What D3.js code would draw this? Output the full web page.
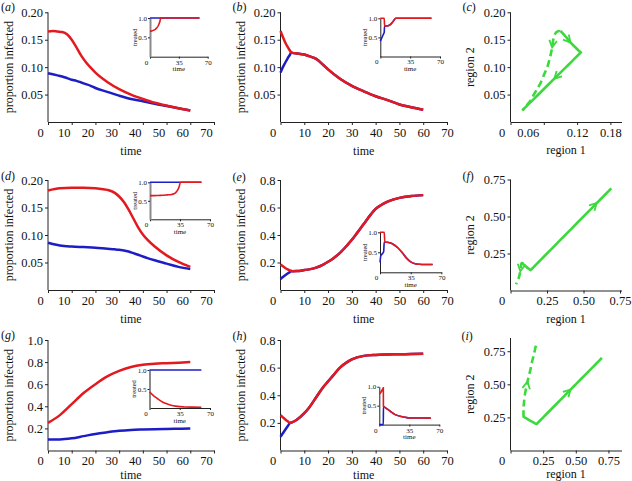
<!DOCTYPE html>
<html><head><meta charset="utf-8">
<script src="https://cdn.jsdelivr.net/npm/d3@7"></script>
<style>
body{margin:0;background:#fff}
svg{display:block}
svg text{font-family:'Liberation Serif','Times New Roman','DejaVu Serif',serif !important;}
</style>
</head><body>
<svg id="chart" width="632" height="481"></svg>
<script>
// ================= DATA =================
const timeTicks = [0,10,20,30,40,50,60,70];
const insetXTicks = [0,35,70];
const insetYTicks = [0.5,1.0];
const yTicksSmall = [0.05,0.10,0.15,0.20];
const yTicksE = [0.2,0.4,0.6,0.8];
const yTicksG = [0.2,0.4,0.6,0.8,1.0];
const xTicksC = [0,0.06,0.12,0.18];
const xTicksFI = [0,0.25,0.50,0.75];
const yTicksFI = [0.25,0.50,0.75];

// (a)
const tA    = [0,2,4,6,8,10,12,14,16,18,20,25,30,35,40,45,50,55,60];
const redA  = [0.165,0.166,0.165,0.164,0.160,0.150,0.136,0.121,0.109,0.099,0.090,0.073,0.060,0.050,0.042,0.035,0.030,0.025,0.021];
const blueA = [0.089,0.087,0.085,0.083,0.080,0.077,0.075,0.072,0.069,0.066,0.062,0.055,0.048,0.042,0.038,0.033,0.029,0.025,0.021];
const tAi    = [0,2,4,6,8,10,11,12,13,60];
const redAi  = [0.66,0.665,0.68,0.70,0.74,0.80,0.85,0.91,1.0,1.0];
const blueAi = [1,1,1,1,1,1,1,1,1,1];

// (b)
const tB    = [0,1,2,3,4,4.5,5,7,10,12,15,18,20,25,30,35,40,45,50,55,60];
const redB  = [0.166,0.155,0.145,0.137,0.130,0.127,0.126,0.125,0.123,0.120,0.115,0.104,0.096,0.079,0.066,0.056,0.047,0.040,0.032,0.027,0.0225];
const blueB = [0.090,0.100,0.108,0.116,0.123,0.127,0.126,0.125,0.123,0.120,0.115,0.104,0.096,0.079,0.066,0.056,0.047,0.040,0.032,0.027,0.0225];
const tBi    = [0,1,2,3,4,4.6,5,8,10,12,14,16,18,60];
const redBi  = [1,1,1,1,1,1,0.8,0.8,0.81,0.84,0.89,0.95,1,1];
const blueBi = [0.4,0.45,0.5,0.55,0.6,0.63,0.8,0.8,0.81,0.84,0.89,0.95,1,1];

// (d)
const tD    = [0,5,10,15,20,25,28,30,32,34,36,38,40,42,45,50,55,60];
const redD  = [0.181,0.185,0.186,0.186,0.185,0.182,0.177,0.170,0.160,0.146,0.130,0.114,0.101,0.091,0.079,0.063,0.051,0.042];
const blueD = [0.086,0.081,0.079,0.078,0.077,0.075,0.074,0.073,0.072,0.070,0.067,0.064,0.061,0.058,0.054,0.048,0.042,0.038];
const tDi    = [0,5,10,15,20,25,28,30,32,34,35.5,60];
const redDi  = [0.64,0.64,0.645,0.65,0.66,0.67,0.69,0.72,0.78,0.88,1.0,1.0];
const blueDi = [1,1,1,1,1,1,1,1,1,1,1,1];

// (e)
const tE    = [0,1,2,3,4,4.5,5,7,10,12,15,18,20,22,25,28,30,32,35,38,40,42,45,50,55,60];
const redE  = [0.185,0.172,0.160,0.150,0.142,0.138,0.137,0.138,0.145,0.150,0.163,0.185,0.205,0.228,0.270,0.325,0.365,0.410,0.480,0.550,0.590,0.615,0.642,0.670,0.683,0.690];
const blueE = [0.080,0.095,0.108,0.120,0.132,0.138,0.137,0.138,0.145,0.150,0.163,0.185,0.205,0.228,0.270,0.325,0.365,0.410,0.480,0.550,0.590,0.615,0.642,0.670,0.683,0.690];
const tEi    = [0,1,3,4.2,4.8,5.5,8,12,15,20,25,30,35,40,45,50,60];
const redEi  = [1,1,1,1,1,0.75,0.75,0.73,0.70,0.62,0.50,0.36,0.26,0.215,0.20,0.195,0.195];
const blueEi = [0.25,0.42,0.47,0.52,0.75,0.75,0.75,0.73,0.70,0.62,0.50,0.36,0.26,0.215,0.20,0.195,0.195];

// (g)
const tG    = [0,5,10,15,20,25,30,35,40,45,50,55,60];
const redG  = [0.25,0.32,0.42,0.52,0.60,0.67,0.72,0.755,0.775,0.785,0.79,0.795,0.80];
const blueG = [0.10,0.10,0.11,0.13,0.15,0.165,0.178,0.186,0.19,0.193,0.195,0.197,0.198];
const tGi    = [0,3,6,9,12,15,20,25,30,35,40,50,60];
const redGi  = [0.42,0.36,0.30,0.25,0.20,0.16,0.11,0.075,0.05,0.035,0.028,0.022,0.02];
const blueGi = [1,1,1,1,1,1,1,1,1,1,1,1,1];

// (h)
const tH    = [0,1,2,3,4,5,7,10,12,15,18,20,22,25,28,30,35,40,45,50,55,60];
const redH  = [0.255,0.240,0.225,0.212,0.200,0.205,0.225,0.270,0.310,0.385,0.460,0.500,0.540,0.600,0.640,0.660,0.685,0.692,0.695,0.697,0.698,0.700];
const blueH = [0.100,0.125,0.150,0.175,0.200,0.205,0.225,0.270,0.310,0.385,0.460,0.500,0.540,0.600,0.640,0.660,0.685,0.692,0.695,0.697,0.698,0.700];
const tHi    = [0,1,2,3,4,4.7,4.8,6,8,10,12,14,16,18,20,24,28,32,36,40,50,60];
const redHi  = [0.81,0.83,0.86,0.90,0.94,0.97,0.48,0.46,0.43,0.40,0.37,0.33,0.30,0.27,0.25,0.22,0.20,0.185,0.178,0.175,0.173,0.172];
const blueHi = [0,0,0,0,0,0,0.48,0.46,0.43,0.40,0.37,0.33,0.30,0.27,0.25,0.22,0.20,0.185,0.178,0.175,0.173,0.172];

// arrow times on phase paths
const arrowsCsolid = [2,25], arrowsCdash = [12];
const arrowsFsolid = [40],   arrowsFdash = [36];
const arrowsIsolid = [18],   arrowsIdash = [15];

// ================= DRAWING =================
const RED = '#e2191e', BLUE = '#1d1dc6', GREEN = '#3cd93c';
const FONT = "'Liberation Serif','Times New Roman','DejaVu Serif',serif";
const svg = d3.select('#chart');

function styleAxis(sel, size) {
  sel.attr('font-family', null).style('font-family', FONT).attr('font-size', size).attr('color', '#222');
  sel.selectAll('text').attr('fill', '#111');
}

function panelLabel(x, y, letter) {
  const t = svg.append('text').attr('x', x).attr('y', y)
    .style('font-family', FONT).attr('font-size', 12).attr('fill', '#111');
  t.append('tspan').text('(');
  t.append('tspan').attr('font-style', 'italic').text(letter);
  t.append('tspan').text(')');
}

function yTitle(x, y, txt, size) {
  svg.append('text').attr('transform', `translate(${x},${y}) rotate(-90)`)
    .attr('text-anchor', 'middle').style('font-family', FONT).attr('font-size', size)
    .attr('fill', '#111').text(txt);
}
function xTitle(x, y, txt, size) {
  svg.append('text').attr('x', x).attr('y', y).attr('text-anchor', 'middle')
    .style('font-family', FONT).attr('font-size', size).attr('fill', '#111').text(txt);
}

function timePanel(c) {
  const x = d3.scaleLinear().domain([0, 70]).range([c.x0, c.x1]);
  const y = d3.scaleLinear().domain([0, c.ymax]).range([c.y0, c.y1]);
  const gx = svg.append('g').attr('transform', `translate(0,${c.y0})`)
    .call(d3.axisBottom(x).tickValues(timeTicks).tickSize(3).tickPadding(3).tickSizeOuter(0).tickFormat(d3.format('d')));
  styleAxis(gx, 12.5);
  gx.selectAll('text').attr('dx', d => d === 0 ? c.zeroShift : c.labelShift);
  const gy = svg.append('g').attr('transform', `translate(${c.x0},0)`)
    .call(d3.axisLeft(y).tickValues(c.yTicks).tickSize(3).tickPadding(2).tickSizeOuter(0).tickFormat(d3.format(c.yFmt)));
  styleAxis(gy, 12.5);
  gy.select('.domain').attr('d', `M0,${c.y0}V${c.y1}`);

  const line = (t, v) => d3.line().x((d, i) => x(t[i])).y(d => y(d)).curve(d3.curveMonotoneX)(v);
  svg.append('path').attr('d', line(c.t, c.blue)).attr('fill', 'none').attr('stroke', BLUE).attr('stroke-width', 2.5);
  svg.append('path').attr('d', line(c.t, c.red)).attr('fill', 'none').attr('stroke', RED).attr('stroke-width', 2.5);

  yTitle(c.ytx, (c.y0 + c.y1) / 2, 'proportion infected', 12);
  xTitle((c.x0 + c.x1) / 2, c.xty, 'time', 12);
  panelLabel(c.lx, c.ly, c.letter);

  // inset
  const I = c.inset;
  const xi = d3.scaleLinear().domain([0, 70]).range([I.x0, I.x1]);
  const yi = d3.scaleLinear().domain([0, 1]).range([I.y0, I.y1]);
  const gxi = svg.append('g').attr('transform', `translate(0,${I.y0})`)
    .call(d3.axisBottom(xi).tickValues(insetXTicks).tickSize(2).tickPadding(1).tickSizeOuter(0));
  styleAxis(gxi, 7);
  gxi.selectAll('text').attr('dx', d => d === 0 ? -4 : 0);
  const gyi = svg.append('g').attr('transform', `translate(${I.x0},0)`)
    .call(d3.axisLeft(yi).tickValues(insetYTicks).tickSize(2).tickPadding(1).tickSizeOuter(0).tickFormat(d3.format('.1f')));
  styleAxis(gyi, 7);
  if (I.grayAxis) gyi.select('.domain').attr('stroke', '#8a8a8a').attr('stroke-width', 2);
  const li = (t, v) => d3.line().x((d, i) => xi(t[i])).y(d => yi(d)).curve(d3.curveMonotoneX)(v);
  svg.append('path').attr('d', li(I.t, I.blue)).attr('fill', 'none').attr('stroke', BLUE).attr('stroke-width', 1.6);
  svg.append('path').attr('d', li(I.t, I.red)).attr('fill', 'none').attr('stroke', RED).attr('stroke-width', 1.6);
  yTitle(I.x0 - 13.5, (I.y0 + I.y1) / 2, 'treated', 6.5);
  xTitle((I.x0 + I.x1) / 2, I.y0 + 14.5, 'time', 7);
}

function phasePanel(c) {
  const x = d3.scaleLinear().domain([0, c.xmax]).range([c.x0, c.x1]);
  const y = d3.scaleLinear().domain([0, c.ymax]).range([c.y0, c.y1]);
  const gx = svg.append('g').attr('transform', `translate(0,${c.y0})`)
    .call(d3.axisBottom(x).tickValues(c.xTicks).tickSize(3).tickPadding(3).tickSizeOuter(0)
      .tickFormat(d => d === 0 ? '0' : d3.format('.2f')(d)));
  styleAxis(gx, 12.5);
  gx.selectAll('text').attr('dx', d => (c.shifts[String(d)] || 0));
  const gy = svg.append('g').attr('transform', `translate(${c.x0},0)`)
    .call(d3.axisLeft(y).tickValues(c.yTicks).tickSize(3).tickPadding(2).tickSizeOuter(0).tickFormat(d3.format('.2f')));
  styleAxis(gy, 12.5);
  gy.select('.domain').attr('d', `M0,${c.y0}V${c.y1}`);

  c.paths.forEach(p => {
    const ln = d3.line().x((d, i) => x(p.r1[i])).y((d, i) => y(p.r2[i])).curve(d3.curveCatmullRom.alpha(0.5));
    svg.append('path').attr('d', ln(p.t)).attr('fill', 'none').attr('stroke', GREEN)
      .attr('stroke-width', 2.6).attr('stroke-dasharray', p.dashed ? '7,4' : null)
      .attr('stroke-linejoin', 'round');
    const f1 = d3.scaleLinear().domain(p.t).range(p.r1).clamp(true);
    const f2 = d3.scaleLinear().domain(p.t).range(p.r2).clamp(true);
    p.arrows.forEach(ta => {
      const px = x(f1(ta)), py = y(f2(ta));
      const qx = x(f1(ta - 1.5)), qy = y(f2(ta - 1.5));
      let dx = px - qx, dy = py - qy; const L = Math.hypot(dx, dy) || 1; dx /= L; dy /= L;
      const len = 8, a = 0.5, bx = -dx, by = -dy;
      const r = s => [px + len * (bx * Math.cos(s * a) - by * Math.sin(s * a)), py + len * (bx * Math.sin(s * a) + by * Math.cos(s * a))];
      const p1 = r(1), p2 = r(-1);
      svg.append('path').attr('d', `M${p1[0]},${p1[1]}L${px},${py}L${p2[0]},${p2[1]}`)
        .attr('fill', 'none').attr('stroke', GREEN).attr('stroke-width', 1.8);
    });
  });
  yTitle(c.ytx, (c.y0 + c.y1) / 2, 'region 2', 12);
  xTitle((c.x0 + c.x1) / 2, c.xty, 'region 1', 12);
  panelLabel(c.lx, c.ly, c.letter);
}

// ---- layout ----
const LX0 = 48, LX1 = 214, MX0 = 280.5, MX1 = 447, RX0 = 510.5;
const rows = [{y0: 122, top: 12.3, xty: 155},
              {y0: 290, top: 180, xty: 323},
              {y0: 450.5, top: 340, xty: 479}];

timePanel({letter: 'a', x0: LX0, x1: LX1, y0: rows[0].y0, y1: rows[0].top, ymax: 0.2, yTicks: yTicksSmall, yFmt: '.2f',
  t: tA, red: redA, blue: blueA, labelShift: -8, zeroShift: -8, ytx: 13, xty: rows[0].xty, lx: 1, ly: 11,
  inset: {x0: 150, x1: 207.7, y0: 56.7, y1: 18, t: tAi, red: redAi, blue: blueAi, grayAxis: true}});
timePanel({letter: 'b', x0: MX0, x1: MX1, y0: rows[0].y0, y1: rows[0].top, ymax: 0.2, yTicks: yTicksSmall, yFmt: '.2f',
  t: tB, red: redB, blue: blueB, labelShift: 0, zeroShift: -8, ytx: 245, xty: rows[0].xty, lx: 232.5, ly: 11,
  inset: {x0: 380.3, x1: 440, y0: 56.5, y1: 18.3, t: tBi, red: redBi, blue: blueBi}});
phasePanel({letter: 'c', x0: RX0, x1: 621.5, y0: rows[0].y0, y1: rows[0].top, xmax: 0.2, ymax: 0.2,
  xTicks: xTicksC, yTicks: yTicksSmall, shifts: {'0': -9, '0.06': -16},
  paths: [{t: tA, r1: blueA, r2: redA, dashed: true, arrows: arrowsCdash},
          {t: tB, r1: blueB, r2: redB, dashed: false, arrows: arrowsCsolid}],
  ytx: 473.5, xty: 154, lx: 462.5, ly: 11});

timePanel({letter: 'd', x0: LX0, x1: LX1, y0: rows[1].y0, y1: rows[1].top, ymax: 0.2, yTicks: yTicksSmall, yFmt: '.2f',
  t: tD, red: redD, blue: blueD, labelShift: -8, zeroShift: -8, ytx: 13, xty: rows[1].xty, lx: 1, ly: 180,
  inset: {x0: 150, x1: 210, y0: 219.3, y1: 182.3, t: tDi, red: redDi, blue: blueDi, grayAxis: true}});
timePanel({letter: 'e', x0: MX0, x1: MX1, y0: rows[1].y0, y1: rows[1].top, ymax: 0.8, yTicks: yTicksE, yFmt: '.1f',
  t: tE, red: redE, blue: blueE, labelShift: 0, zeroShift: -8, ytx: 245, xty: rows[1].xty, lx: 232.5, ly: 181,
  inset: {x0: 380, x1: 441.4, y0: 272.3, y1: 232.3, t: tEi, red: redEi, blue: blueEi}});
phasePanel({letter: 'f', x0: RX0, x1: 621.5, y0: 290.5, y1: 179.5, xmax: 0.76, ymax: 0.75,
  xTicks: xTicksFI, yTicks: yTicksFI, shifts: {'0': -9},
  paths: [{t: tD, r1: blueD, r2: redD, dashed: true, arrows: arrowsFdash},
          {t: tE, r1: blueE, r2: redE, dashed: false, arrows: arrowsFsolid}],
  ytx: 473.5, xty: 323, lx: 462.5, ly: 180});

timePanel({letter: 'g', x0: LX0, x1: LX1, y0: rows[2].y0, y1: rows[2].top, ymax: 1.0, yTicks: yTicksG, yFmt: '.1f',
  t: tG, red: redG, blue: blueG, labelShift: -8, zeroShift: -8, ytx: 13, xty: rows[2].xty, lx: 1, ly: 339,
  inset: {x0: 149.5, x1: 210, y0: 408, y1: 370, t: tGi, red: redGi, blue: blueGi, grayAxis: true}});
timePanel({letter: 'h', x0: MX0, x1: MX1, y0: rows[2].y0, y1: rows[2].top, ymax: 0.8, yTicks: yTicksE, yFmt: '.1f',
  t: tH, red: redH, blue: blueH, labelShift: 0, zeroShift: -8, ytx: 245, xty: rows[2].xty, lx: 232.5, ly: 340,
  inset: {x0: 379.3, x1: 439.3, y0: 424.6, y1: 386.7, t: tHi, red: redHi, blue: blueHi}});
phasePanel({letter: 'i', x0: RX0, x1: 621.5, y0: rows[2].y0, y1: 338, xmax: 0.85, ymax: 0.85,
  xTicks: xTicksFI, yTicks: yTicksFI, shifts: {'0': -9},
  paths: [{t: tG, r1: blueG, r2: redG, dashed: true, arrows: arrowsIdash},
          {t: tH, r1: blueH, r2: redH, dashed: false, arrows: arrowsIsolid}],
  ytx: 473.5, xty: 478, lx: 461.5, ly: 340});
</script>
</body></html>
